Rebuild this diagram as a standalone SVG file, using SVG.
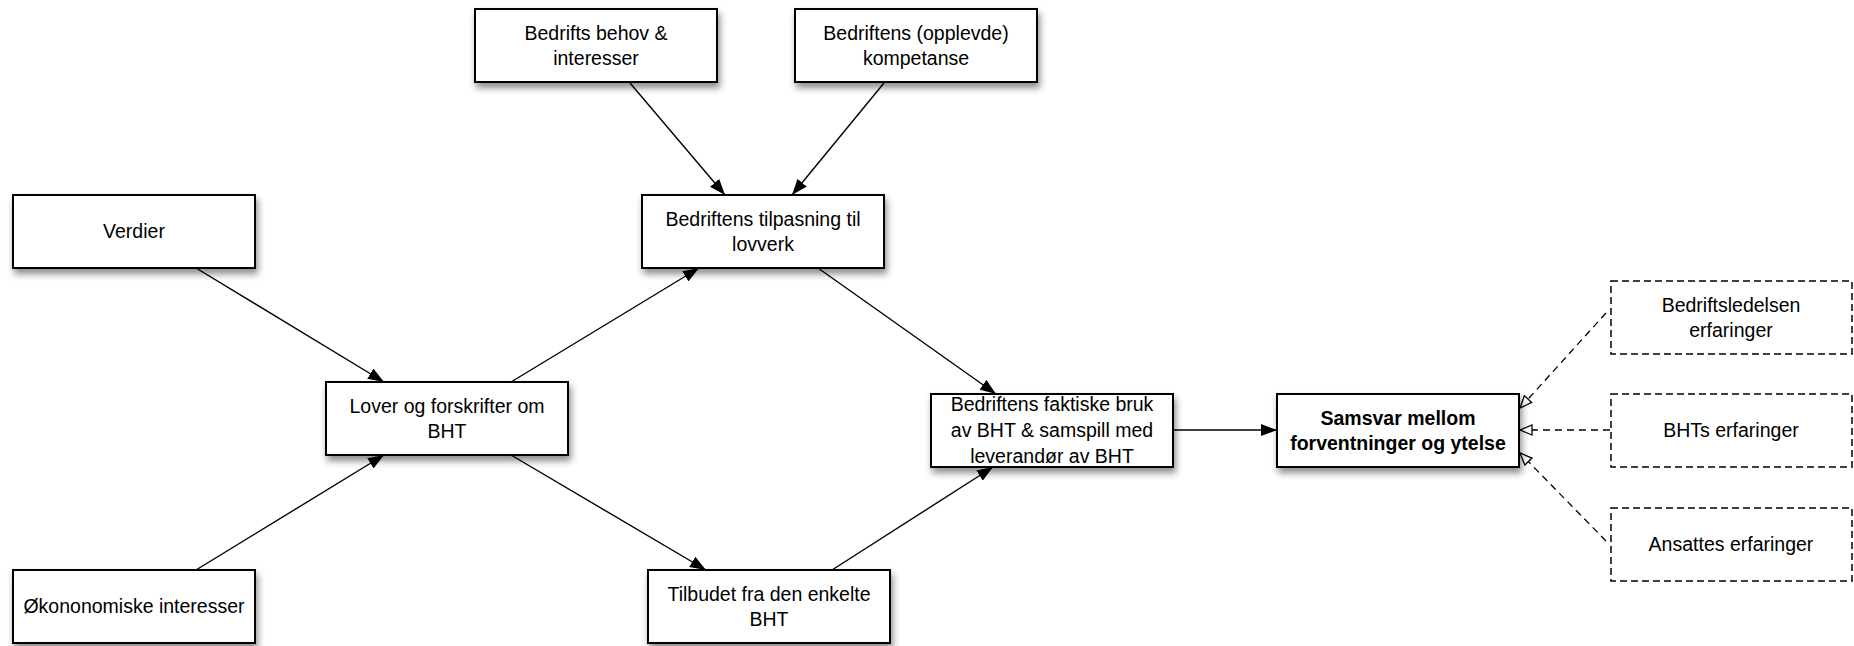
<svg xmlns="http://www.w3.org/2000/svg" width="1854" height="646" viewBox="0 0 1854 646">
<style>
.box{fill:#fff;stroke:#000;stroke-width:2}
.dbox{fill:#fff;stroke:#000;stroke-width:1.5;stroke-dasharray:7,4}
.t{font-family:"Liberation Sans",Arial,sans-serif;font-size:19.5px;fill:#000;text-anchor:middle}
.b{font-weight:bold}
.c{stroke:#000;stroke-width:1.4;fill:none}
.d{stroke:#000;stroke-width:1.3;fill:none;stroke-dasharray:7,5}
</style>
<defs>
<filter id="sh" x="-10%" y="-20%" width="125%" height="160%">
<feDropShadow dx="2" dy="5" stdDeviation="3.5" flood-color="#000" flood-opacity="0.45"/>
</filter>
<marker id="af" viewBox="0 0 16 12" refX="16" refY="6" markerWidth="16" markerHeight="12" markerUnits="userSpaceOnUse" orient="auto">
<path d="M0,0 L16,6 L0,12 z" fill="#000"/>
</marker>
<marker id="ah" viewBox="0 0 14 12" refX="13" refY="6" markerWidth="14" markerHeight="12" markerUnits="userSpaceOnUse" orient="auto">
<path d="M1,1 L13,6 L1,11 z" fill="#fff" stroke="#000" stroke-width="1.3"/>
</marker>
</defs>
<g id="connectors">
<line class="c" x1="196" y1="268" x2="384" y2="382" marker-end="url(#af)"/>
<line class="c" x1="196" y1="570" x2="384" y2="455" marker-end="url(#af)"/>
<line class="c" x1="511" y1="382" x2="699" y2="268" marker-end="url(#af)"/>
<line class="c" x1="511" y1="455" x2="706" y2="570" marker-end="url(#af)"/>
<line class="c" x1="630" y1="83" x2="725" y2="195" marker-end="url(#af)"/>
<line class="c" x1="884" y1="83" x2="792" y2="195" marker-end="url(#af)"/>
<line class="c" x1="818" y1="268" x2="996" y2="394" marker-end="url(#af)"/>
<line class="c" x1="832" y1="570" x2="993" y2="467" marker-end="url(#af)"/>
<line class="c" x1="1173" y1="430" x2="1277" y2="430" marker-end="url(#af)"/>
<line class="d" x1="1606" y1="313" x2="1520" y2="408" marker-end="url(#ah)"/>
<line class="d" x1="1610" y1="430" x2="1520" y2="430" marker-end="url(#ah)"/>
<line class="d" x1="1606" y1="541" x2="1520" y2="453" marker-end="url(#ah)"/>
</g>
<g id="n-behov"><rect class="box" filter="url(#sh)" x="475" y="9" width="242" height="73"/><text class="t" x="596" y="40">Bedrifts behov &amp;</text><text class="t" x="596" y="65">interesser</text></g>
<g id="n-kompetanse"><rect class="box" filter="url(#sh)" x="795" y="9" width="242" height="73"/><text class="t" x="916" y="40">Bedriftens (opplevde)</text><text class="t" x="916" y="65">kompetanse</text></g>
<g id="n-verdier"><rect class="box" filter="url(#sh)" x="13" y="195" width="242" height="73"/><text class="t" x="134" y="238">Verdier</text></g>
<g id="n-tilpasning"><rect class="box" filter="url(#sh)" x="642" y="195" width="242" height="73"/><text class="t" x="763" y="226">Bedriftens tilpasning til</text><text class="t" x="763" y="251">lovverk</text></g>
<g id="n-lover"><rect class="box" filter="url(#sh)" x="326" y="382" width="242" height="73"/><text class="t" x="447" y="413">Lover og forskrifter om</text><text class="t" x="447" y="438">BHT</text></g>
<g id="n-faktiske"><rect class="box" filter="url(#sh)" x="931" y="394" width="242" height="73"/><text class="t" x="1052" y="411">Bedriftens faktiske bruk</text><text class="t" x="1052" y="437">av BHT &amp; samspill med</text><text class="t" x="1052" y="463">leverandør av BHT</text></g>
<g id="n-samsvar"><rect class="box" filter="url(#sh)" x="1277" y="394" width="242" height="73"/><text class="t b" x="1398" y="425">Samsvar mellom</text><text class="t b" x="1398" y="450">forventninger og ytelse</text></g>
<g id="n-ledelse"><rect class="dbox" x="1611" y="281" width="241" height="73"/><text class="t" x="1731" y="312">Bedriftsledelsen</text><text class="t" x="1731" y="337">erfaringer</text></g>
<g id="n-bht"><rect class="dbox" x="1611" y="394" width="241" height="73"/><text class="t" x="1731" y="437">BHTs erfaringer</text></g>
<g id="n-ansatte"><rect class="dbox" x="1611" y="508" width="241" height="73"/><text class="t" x="1731" y="551">Ansattes erfaringer</text></g>
<g id="n-okonomi"><rect class="box" filter="url(#sh)" x="13" y="570" width="242" height="73"/><text class="t" x="134" y="613">Økononomiske interesser</text></g>
<g id="n-tilbudet"><rect class="box" filter="url(#sh)" x="648" y="570" width="242" height="73"/><text class="t" x="769" y="601">Tilbudet fra den enkelte</text><text class="t" x="769" y="626">BHT</text></g>
</svg>
